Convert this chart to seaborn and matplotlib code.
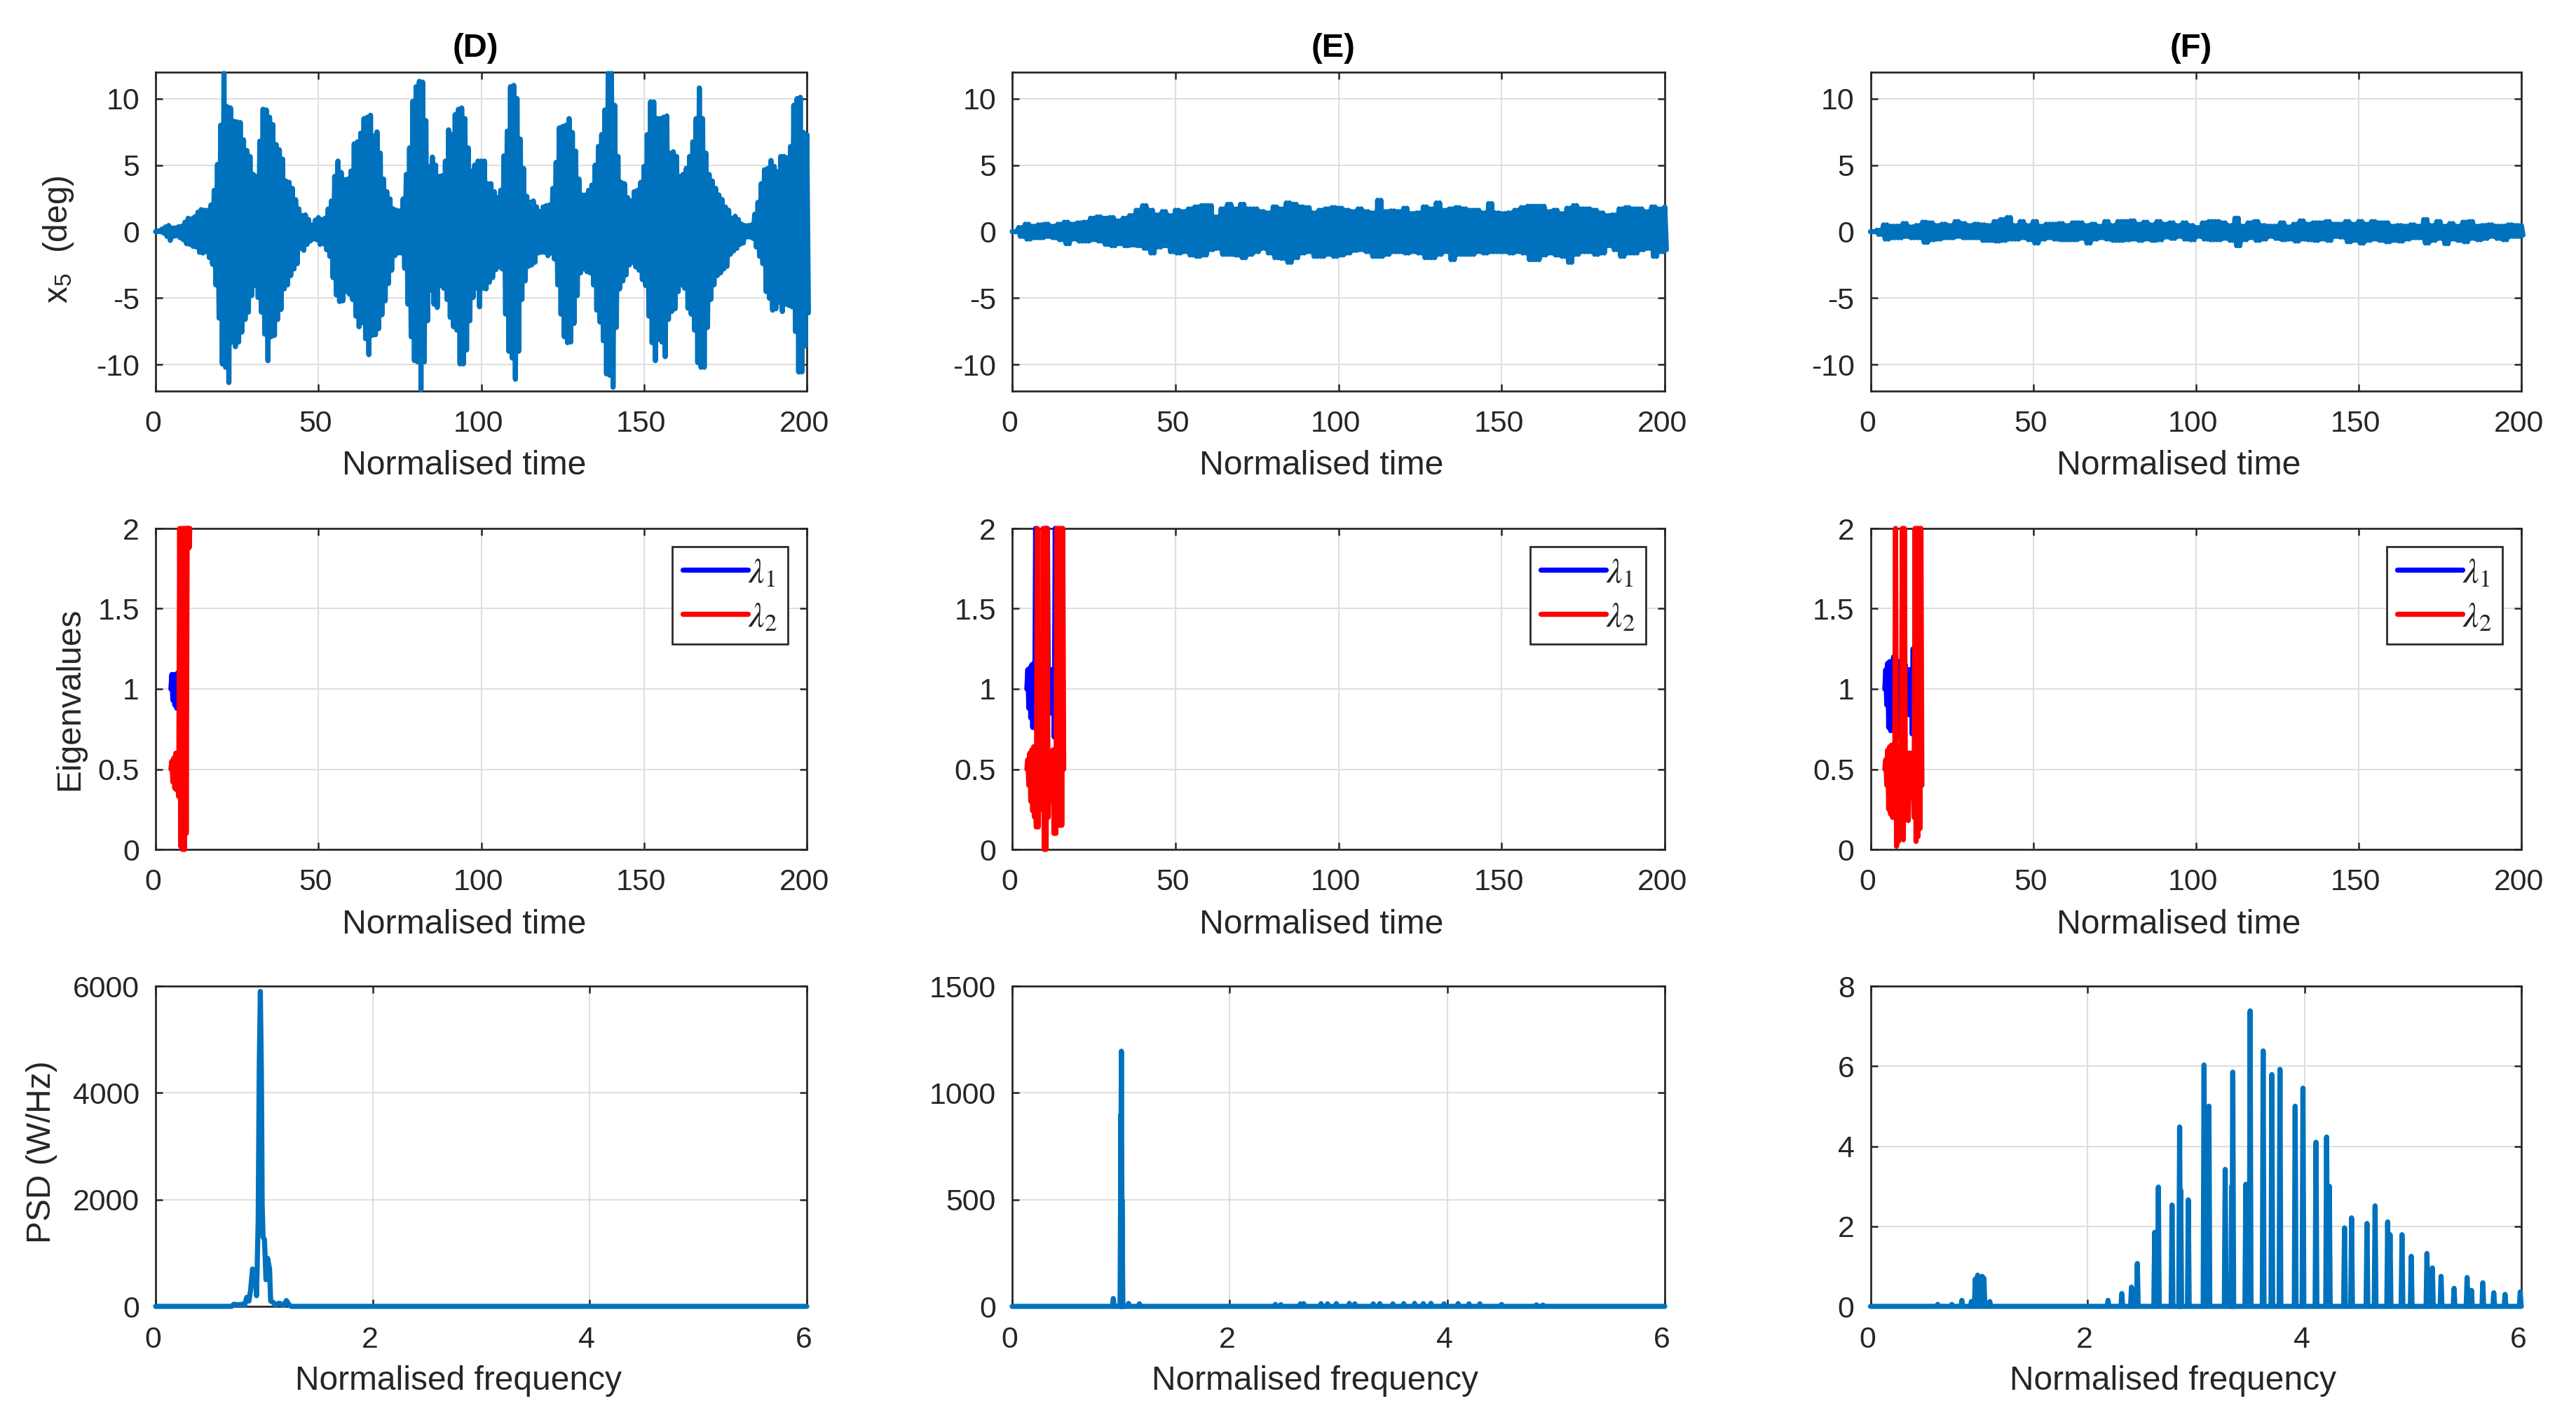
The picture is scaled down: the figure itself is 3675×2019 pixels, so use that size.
import numpy as np
import pandas as pd
import matplotlib
matplotlib.use("Agg")
import matplotlib.pyplot as plt
from matplotlib.transforms import ScaledTranslation
import seaborn as sns

DPI = 300
W, H = 3675, 2019
LINE_BLUE = "#0072BD"
INK = "#262626"
GRID = "#DFDFDF"
LW = 1.75

# time axes of the top row
t_d = list(range(0, 201))
t_ef = list(range(0, 201, 2))

# x5 envelope, panel D (peak values per time unit)
d_upper = [0.0,
    .26,.39,.54,.65,.47,.47,.56,.6,.9,1.2,
    1.15,1.3,1.65,1.85,1.8,1.8,2.2,3.3,5.25,8.2,
    12.1,9.6,9.5,8.5,8.45,8.4,7.1,6.3,5.85,4.5,
    4.35,7,9.4,9.35,8.8,8.25,6.75,6.35,5.65,4,
    3.9,3.45,2.6,1.9,1.4,1.45,1.1,.65,1.05,1.25,
    1.1,1.2,1.9,2.5,4.35,5.5,4.65,4.1,4.15,4.75,
    6.8,6.95,7.6,8.7,8.8,8.95,7.4,7.7,6.1,4.15,
    3.2,2.65,1.9,1.8,1.75,2.65,4.5,6.5,10,11.1,
    11.5,11.45,8.55,5.1,5.8,5.2,4.35,4.4,5.5,7.85,
    7.5,9,9.4,9.5,8.7,6.5,4.75,5.2,5.5,5.5,
    5.5,3.8,3.8,3.2,2.75,3.3,5.9,7.75,11.1,11.2,
    10.2,7.15,4.95,2.85,2.4,2.5,2.05,1.7,2.05,2.15,
    2.2,3.45,5.4,8,8.1,8.2,8.7,7.65,6.25,4.15,
    2.95,2.95,3.3,3.7,5.2,6.6,7.5,9.35,12.1,12.1,
    9.7,5.85,3.9,3.8,2.75,2.5,3.2,3.3,3.9,5.1,
    7.5,9.95,9.95,8.7,8.7,8.8,8.9,6.1,6.2,5.85,
    4.35,4.5,4.95,5.85,6.95,8.7,11,8.7,6.1,4.5,
    4,3.45,2.95,2.6,2.05,1.8,1.2,1.35,1.1,.75,
    .65,.65,.7,1.5,2.4,3.8,4.85,4.95,5.55,5.1,
    4.7,5.85,5.85,5.75,6.6,9.7,10.2,10.3,7.65,7.5]
d_lower = [0.0,
    -.2,-.3,-.55,-.85,-.55,-.5,-.65,-.8,-1.1,-1.15,
    -1.3,-1.35,-1.75,-1.8,-1.7,-2.15,-2.65,-4.2,-6.7,-10.15,
    -10.4,-11.55,-8.5,-8.85,-8.5,-7.75,-6.8,-6.25,-5,-4.25,
    -5.15,-6.25,-7.9,-9.9,-8.1,-8,-6.8,-6.05,-4.5,-4.2,
    -3.5,-3,-2.6,-1.45,-1.6,-1.15,-.9,-.75,-.8,-1.15,
    -1.1,-1.55,-2.05,-3.65,-4.95,-5.45,-5.4,-4.7,-4.9,-5.3,
    -6.55,-7.35,-7.05,-8.25,-9.45,-8,-7.95,-7.5,-6.45,-5.4,
    -4.1,-3.1,-2,-1.8,-1.8,-2.95,-5.65,-8.1,-9.9,-10,
    -12.1,-10,-6.9,-4.6,-5.65,-5.9,-4.25,-4.45,-5.3,-6.65,
    -7.35,-7.6,-10.15,-10.15,-9.1,-6.9,-5.15,-4.45,-5.85,-4.45,
    -4.5,-4,-3.65,-3.05,-2.85,-3,-6.4,-9.2,-9.7,-11.3,
    -9.2,-5.3,-3.9,-2.8,-2.7,-2.5,-1.8,-1.75,-1.75,-2,
    -1.8,-2.25,-4.2,-6.4,-8.1,-8.55,-8.5,-7.1,-5,-3.3,
    -3,-3.2,-3.3,-4.2,-6.1,-7,-8.4,-10.9,-11,-11.9,
    -7.4,-4.5,-3.9,-3.45,-2.7,-2.5,-2.85,-3.1,-3.8,-4.25,
    -6.55,-8.55,-9.9,-8.3,-8.5,-9.6,-6.8,-6.2,-6,-4.7,
    -4.2,-4.45,-5.95,-6.4,-7.6,-10.05,-10.4,-10.4,-7.4,-5.3,
    -4.2,-3.5,-3.3,-3,-2.8,-1.9,-1.65,-1.45,-1.15,-1.05,
    -.6,-.6,-.7,-1.35,-2.05,-2.6,-4.7,-5.2,-6.1,-6,
    -5.5,-6.2,-5.65,-5.75,-5.85,-7.7,-10.75,-10.75,-8.8,-6.3]

# x5 envelope, panel E (every 2 time units)
e_upper = [0.0,
    .5,.75,.6,.7,.75,.6,.75,.9,.75,.85,
    .9,1.2,1.3,1.2,1.25,1,1.2,1.4,1.8,2.15,
    1.8,1.45,1.7,1.4,1.8,1.7,1.9,2.05,2.15,2.15,
    1.3,1.9,2.25,1.9,2.25,1.9,1.9,1.7,1.6,2.05,
    1.9,2.35,2.25,2.05,2,1.6,1.8,1.9,2,1.95,
    1.8,1.7,1.9,1.7,1.6,2.55,1.7,1.75,1.7,1.95,
    1.55,1.6,2.05,1.9,2.35,1.8,1.9,2,1.9,1.8,
    1.8,1.6,2.3,1.6,1.55,1.6,1.8,2,2.1,2.1,
    2.1,1.7,1.8,1.55,1.95,2.15,1.9,1.9,1.8,1.6,
    1.4,1.45,1.9,2,1.9,1.9,1.7,2.05,1.9,2.05]
e_lower = [0.0,
    -.55,-.75,-.65,-.65,-.55,-.65,-.8,-1.1,-.75,-.9,
    -.9,-.8,-.9,-1.15,-1.25,-1.1,-1.25,-1.2,-1.25,-1.45,
    -1.8,-1.35,-1.25,-1.7,-1.8,-1.7,-1.95,-2.05,-1.95,-1.55,
    -1.45,-1.9,-1.9,-1.95,-2.15,-1.9,-1.7,-1.45,-1.8,-2.15,
    -2.2,-2.5,-2.15,-1.8,-1.7,-2.05,-2.05,-1.9,-2.05,-1.95,
    -1.8,-1.6,-1.55,-1.7,-2.05,-2.05,-1.9,-1.7,-1.7,-1.8,
    -1.7,-1.8,-2.15,-2.15,-1.9,-1.7,-2.3,-1.9,-1.9,-1.9,
    -1.7,-1.8,-1.7,-1.7,-1.7,-1.8,-1.7,-1.8,-2.3,-2.3,
    -1.95,-1.8,-1.95,-2.05,-2.5,-1.9,-1.7,-1.7,-1.9,-1.8,
    -1.25,-1.55,-2.05,-1.8,-1.8,-1.55,-1.45,-2.05,-1.7,-1.55]

# x5 envelope, panel F (every 2 time units)
f_upper = [0.0,
    .3,.7,.6,.6,.8,.55,.65,.9,.85,.65,
    .75,.65,.95,.8,.65,.75,.7,.65,.95,1.1,
    1.25,.65,.95,.65,.95,.6,.75,.75,.8,.65,
    .85,.85,.65,.75,.6,.95,.65,.95,.95,1,
    .75,.9,.7,.95,.75,.85,.65,.85,.65,.5,
    .85,.95,.95,.85,.65,1.2,.6,.85,.95,.65,
    .6,.6,.85,.55,.75,1,.75,.85,.85,.95,
    .75,.75,.95,.75,.95,.75,.95,.85,.85,.6,
    .65,.6,.7,.6,1.1,.65,.95,.6,.8,.6,
    .9,.95,.6,.65,.7,.6,.6,.7,.65,.65]
f_lower = [0.0,
    -.4,-.75,-.65,-.65,-.55,-.65,-.65,-1,-.8,-.75,
    -.65,-.65,-.55,-.65,-.65,-.65,-.85,-.85,-.9,-.85,
    -.75,-.75,-.65,-.8,-1.05,-.75,-.65,-.75,-.8,-.8,
    -.8,-.7,-1.05,-.75,-.65,-.75,-.85,-.85,-.8,-.75,
    -.85,-.75,-.85,-.8,-.6,-.7,-.55,-.75,-.8,-.55,
    -.75,-.8,-.8,-.7,-.85,-1.25,-.8,-.65,-.85,-.75,
    -.55,-.7,-.8,-.75,-.9,-.75,-.8,-.85,-.75,-.85,
    -.55,-.6,-.95,-.85,-1.05,-.85,-.75,-.85,-.95,-.85,
    -.9,-.75,-.65,-.65,-1.05,-.85,-.7,-1.1,-.75,-.85,
    -.95,-.7,-.8,-.7,-.55,-.7,-.8,-.55,-.55,-.45]

# eigenvalues
eig_d_blue_t = [4.7,5.0,5.3,5.6,5.9,6.2,6.5,6.8,7.1,7.4]
eig_d_blue = [1.0,1.09,.93,1.09,.9,1.09,.88,1.1,.88,1.11]
eig_d_red_t = [4.7,5,5.3,5.6,5.9,6.2,6.5,6.8,7.1,7.4,7.7,8,8.3,8.6,8.9,9.2,9.4,9.7,9.9,10.1,10.3,10.5]
eig_d_red = [.5,.55,.42,.57,.38,.6,.37,.6,.33,2,.02,2,0,2,0,2,.1,2,1.88,2,1.88,2]

eig_e_blue_t = [4.5,4.8,5.1,5.4,5.7,6.0,6.3,6.6,6.9,7.2,7.5,7.8,8.1,8.4,8.7,9.0,9.3,9.6,9.9,10.2,10.5,10.8,11.1,11.4,11.7,12.0,12.3,12.6,12.9,13.2,13.5]
eig_e_blue = [1.0,1.12,.88,1.13,.82,1.15,.76,1.16,.78,2,.74,1.15,.76,1.15,.78,1.15,.76,1.15,.8,2,.76,2,.85,1.12,.85,1.12,.85,1.12,.7,2,.7]
eig_e_red_t = [4.5,4.8,5.1,5.4,5.7,6.0,6.3,6.6,6.9,7.1,7.4,7.7,8.0,8.3,8.6,8.9,9.2,9.5,9.8,10.1,10.4,10.7,11.0,11.3,11.6,11.9,12.2,12.5,12.8,13.1,13.4,13.7,14.0,14.3,14.6,14.9,15.2,15.5,15.8]
eig_e_red = [.5,.56,.4,.6,.3,.62,.24,.64,.2,.64,.14,2,.14,.64,.25,.6,.3,2,0,2,0,2,.2,.6,.3,.6,.34,.62,.1,.6,.1,2,.15,2,.15,2,.15,2,.5]

eig_f_blue_t = [4.4,4.7,5.0,5.3,5.6,5.9,6.2,6.5,6.8,7.1,7.4,7.7,8.0,8.3,8.6,8.9,9.2,9.5,9.8,10.1,10.4,10.7,11.0,11.3,11.6,11.9,12.2,12.5,12.8,13.1,13.4]
eig_f_blue = [1.0,1.12,.9,1.16,.76,1.17,.74,1.17,.75,1.2,.74,1.3,.7,1.17,.74,1.17,.7,1.17,.72,1.16,.74,1.15,.84,1.12,.84,1.12,.84,1.12,.72,1.25,.72]
eig_f_red_t = [4.4,4.7,5.0,5.3,5.6,5.9,6.2,6.5,6.8,7.1,7.4,7.7,8.0,8.3,8.6,8.9,9.2,9.5,9.8,10.1,10.4,10.7,11.0,11.3,11.6,11.9,12.2,12.5,12.8,13.1,13.4,13.7,14.0,14.3,14.6,14.9,15.2,15.5,15.8]
eig_f_red = [.5,.56,.4,.62,.25,.64,.22,.65,.2,.65,.2,2,.02,.64,.05,.62,.22,.64,2,.06,2,.55,.2,.6,.18,.6,.32,.6,.34,.6,.2,2,.05,2,.08,2,.13,2,.4]

# PSD
psd_d_f = [0,.70,.72,.76,.80,.82,.84,.86,.875,.893,.905,.916,.93,.945,.955,.965,.975,.982,.99,1.003,1.017,1.032,1.05,1.06,1.08,1.10,1.14,1.18,1.205,1.23,1.25,6]
psd_d = [0,0,40,30,40,20,170,100,300,700,600,650,200,1600,4500,5900,4300,1900,1300,1250,500,900,700,100,80,30,60,20,110,30,0,0]

psd_e_peak_f = [.93,1.0,1.004,1.01,1.07,1.17,2.42,2.47,2.65,2.68,2.84,2.9,2.98,3.1,3.15,3.32,3.38,3.5,3.6,3.7,3.78,3.85,3.97,4.1,4.2,4.3,4.5,4.82,4.88]
psd_e_peak = [37,900,1195,500,14,12,9,8,12,13,13,12,13,14,12,12,13,12,13,14,13,14,12,13,12,12,9,7,6]

psd_f_peak_f = [.62,.75,.842,.93,.966,.988,1.03,1.046,1.1,2.19,2.317,2.406,2.46,2.62,2.654,2.78,2.85,2.86,2.93,3.075,3.12,3.27,3.33,3.34,3.46,3.5,3.62,3.70,3.775,3.915,3.987,4.107,4.205,4.23,4.37,4.435,4.577,4.652,4.768,4.79,4.9,4.985,5.13,5.18,5.26,5.38,5.5,5.54,5.645,5.746,5.85,5.99]
psd_f_peak = [.05,.05,.15,.12,.68,.78,.75,.7,.12,.15,.32,.48,1.07,1.85,2.98,2.53,4.48,2.9,2.66,6.03,5.0,3.42,3.0,5.85,3.05,7.38,6.38,5.79,5.92,5.0,5.45,4.1,4.23,3.0,1.96,2.21,2.07,2.51,2.11,1.79,1.79,1.25,1.32,.96,.75,.45,.72,.4,.59,.34,.3,.36]

titles = ["(D)", "(E)", "(F)"]
title_x = [0.491, 0.4925, 0.492]
time_ticks = [0, 50, 100, 150, 200]
x5_ticks = [-10, -5, 0, 5, 10]
eig_ticks = [0, .5, 1, 1.5, 2]
eig_labels = ["0", "0.5", "1", "1.5", "2"]
freq_ticks = [0, 2, 4, 6]
psd_ticks = [[0, 2000, 4000, 6000], [0, 500, 1000, 1500], [0, 2, 4, 6, 8]]


def zigzag(t, upper, lower, repeat):
    # the peaks were read at the outer edge of the stroke, so pull them in by half a line
    up = np.maximum(np.array(upper) - 0.19, 0)
    lo = np.minimum(np.array(lower) + 0.19, 0)
    step = t[1] - t[0]
    xs, ys = [], []
    for a, u, l in zip(t, up, lo):
        for k in range(repeat):
            xs += [a + step * k / repeat, a + step * (k + 0.5) / repeat]
            ys += [u, l]
    df = pd.DataFrame({"x": xs, "y": ys})
    return df[df["x"] <= t[-1] + 0.5]


def spikes(freq, peak):
    rows = [(0, 0)]
    for f, v in zip(freq, peak):
        rows += [(f - .008, 0), (f, v), (f + .008, 0)]
    rows.append((6, 0))
    return pd.DataFrame(rows, columns=["x", "y"])


def draw(ax, df, color=LINE_BLUE, label=None):
    sns.lineplot(data=df, x="x", y="y", ax=ax, estimator=None, sort=False, color=color,
                 linewidth=LW, label=label, legend=False, zorder=3)
    # MATLAB lets the stroke spill over the box a bit
    ax.lines[-1].set_clip_on(False)


def style_axes(ax, xticks, yticks, xlim, ylim, ylabels=None):
    ax.set_xlim(*xlim)
    ax.set_ylim(*ylim)
    ax.set_xticks(xticks)
    ax.set_yticks(yticks)
    ax.set_xticklabels([str(v) for v in xticks])
    ax.set_yticklabels(ylabels if ylabels else [str(v) for v in yticks])
    ax.grid(True, color=GRID, linewidth=0.5)
    ax.set_axisbelow(True)
    ax.tick_params(direction="in", length=2.4, width=0.6, color=INK, labelcolor=INK,
                   labelsize=10.3, top=True, right=True, bottom=True, left=True)
    ax.tick_params(axis="x", pad=6.6)
    ax.tick_params(axis="y", pad=5.5)
    for s in ax.spines.values():
        s.set_color(INK)
        s.set_linewidth(0.65)
        s.set_visible(True)
    ax.set_xlabel("")
    ax.set_ylabel("")


sns.set_style("whitegrid")
plt.rcParams["font.family"] = ["Liberation Sans", "DejaVu Sans"]
plt.rcParams["mathtext.fontset"] = "stix"

fig = plt.figure(figsize=(W / DPI, H / DPI), dpi=DPI, facecolor="white")

col_px = [(222, 1151), (1444, 2375), (2668.5, 3597)]
row_px = [(103, 558), (754, 1212), (1407, 1864)]

axes = []
for (top, bottom) in row_px:
    row = []
    for (left, right) in col_px:
        row.append(fig.add_axes([left / W, 1 - bottom / H, (right - left) / W, (bottom - top) / H]))
    axes.append(row)

x5_sets = [
    zigzag(t_d, d_upper, d_lower, 1),
    zigzag(t_ef, e_upper, e_lower, 2),
    zigzag(t_ef, f_upper, f_lower, 2),
]
eig_sets = [
    (eig_d_blue_t, eig_d_blue, eig_d_red_t, eig_d_red),
    (eig_e_blue_t, eig_e_blue, eig_e_red_t, eig_e_red),
    (eig_f_blue_t, eig_f_blue, eig_f_red_t, eig_f_red),
]
psd_sets = [
    pd.DataFrame({"x": psd_d_f, "y": psd_d}),
    spikes(psd_e_peak_f, psd_e_peak),
    spikes(psd_f_peak_f, psd_f_peak),
]

for i in range(3):
    # top row
    ax = axes[0][i]
    draw(ax, x5_sets[i])
    style_axes(ax, time_ticks, x5_ticks, (0, 200), (-12, 12))
    ax.text(title_x[i], 1.075, titles[i], transform=ax.transAxes, ha="center", va="center",
            fontsize=11.3, fontweight="bold", color="black")

    # eigenvalues
    ax = axes[1][i]
    bt, bv, rt, rv = eig_sets[i]
    draw(ax, pd.DataFrame({"x": bt, "y": bv}), color="#0000FF", label=r"$\lambda_1$")
    draw(ax, pd.DataFrame({"x": rt, "y": rv}), color="#FF0000", label=r"$\lambda_2$")
    style_axes(ax, time_ticks, eig_ticks, (0, 200), (0, 2), eig_labels)
    ax.legend(loc="upper right", bbox_to_anchor=(1 - 27 / 929, 1 - 26 / 458), borderaxespad=0,
              fontsize=12, frameon=True, fancybox=False, framealpha=1, edgecolor=INK,
              handlelength=1.85, handletextpad=0.0, labelspacing=0.34, borderpad=0.3)
    ax.get_legend().get_frame().set_linewidth(0.65)

    # PSD
    ax = axes[2][i]
    draw(ax, psd_sets[i])
    top = psd_ticks[i][-1]
    style_axes(ax, freq_ticks, psd_ticks[i], (0, 6), (0, top))

    for r in range(2):
        axes[r][i].set_xlabel("Normalised time", fontsize=11.6, color=INK, va="center")
        axes[r][i].xaxis.set_label_coords(0.474, -0.235)
    axes[2][i].set_xlabel("Normalised frequency", fontsize=11.5, color=INK, va="center")
    axes[2][i].xaxis.set_label_coords(0.4645, -0.234)

axes[0][0].set_ylabel(r"x$_{\mathdefault{5}}$  (deg)", fontsize=11.5, color=INK, va="center")
axes[0][0].yaxis.set_label_coords(-0.149, 0.475)
axes[1][0].set_ylabel("Eigenvalues", fontsize=11.5, color=INK, va="center")
axes[1][0].yaxis.set_label_coords(-0.132, 0.469)
axes[2][0].set_ylabel("PSD (W/Hz)", fontsize=11.5, color=INK, va="center")
axes[2][0].yaxis.set_label_coords(-0.175, 0.482)

# x tick labels sit a little left of their ticks
shift = ScaledTranslation(-4 / DPI, 0, fig.dpi_scale_trans)
for row in axes:
    for ax in row:
        for lab in ax.get_xticklabels():
            lab.set_transform(lab.get_transform() + shift)

fig.savefig("out.png", dpi=DPI, facecolor="white")
